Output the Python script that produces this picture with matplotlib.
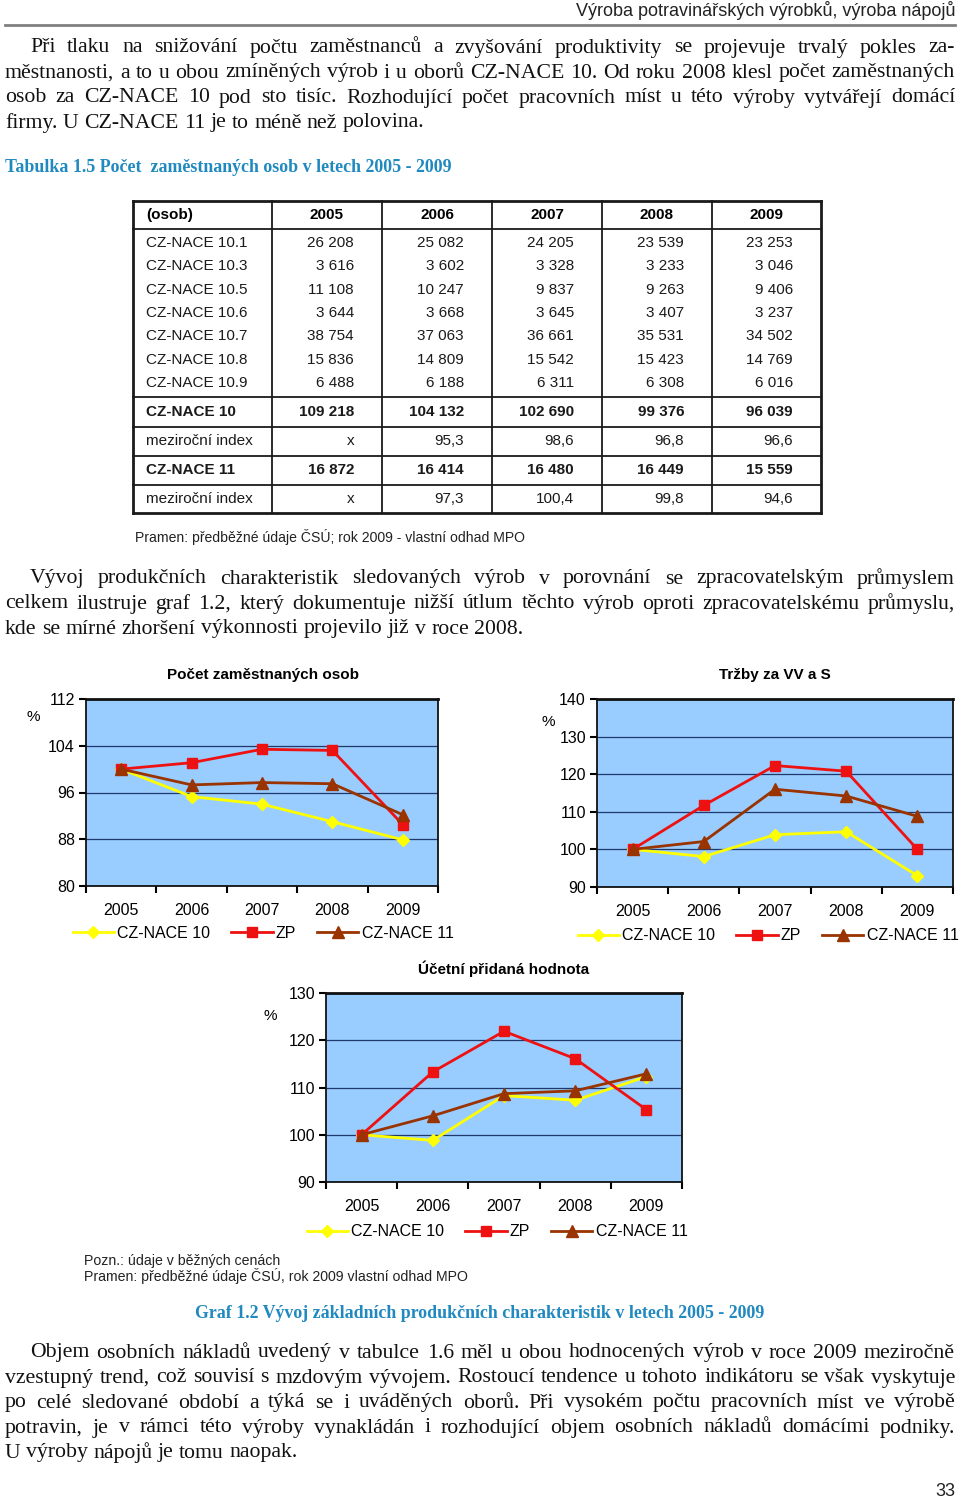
# Strana 33: zaměstnanost a produkční charakteristiky (tabulka 1.5, graf 1.2)

import numpy as np
import matplotlib
matplotlib.use('Agg')
import matplotlib.pyplot as plt

# ---- data ----
years = ['2005', '2006', '2007', '2008', '2009']

sub_labels = ['CZ-NACE 10.1', 'CZ-NACE 10.3', 'CZ-NACE 10.5', 'CZ-NACE 10.6',
              'CZ-NACE 10.7', 'CZ-NACE 10.8', 'CZ-NACE 10.9']
sub_values = [[26208, 25082, 24205, 23539, 23253],
              [3616, 3602, 3328, 3233, 3046],
              [11108, 10247, 9837, 9263, 9406],
              [3644, 3668, 3645, 3407, 3237],
              [38754, 37063, 36661, 35531, 34502],
              [15836, 14809, 15542, 15423, 14769],
              [6488, 6188, 6311, 6308, 6016]]
nace10_total = [109218, 104132, 102690, 99376, 96039]
nace10_index = [None, 95.3, 98.6, 96.8, 96.6]
nace11_total = [16872, 16414, 16480, 16449, 15559]
nace11_index = [None, 97.3, 100.4, 99.8, 94.6]

# graf 1.2 (index 2005 = 100)
emp_nace10 = [100, 95.3, 94.0, 91.0, 87.9]
emp_zp = [100, 101.1, 103.4, 103.2, 90.5]
emp_nace11 = [100, 97.3, 97.7, 97.5, 92.2]

sales_nace10 = [100, 98.1, 103.9, 104.7, 93.0]
sales_zp = [100, 111.7, 122.3, 120.8, 100.0]
sales_nace11 = [100, 102.1, 116.0, 114.2, 108.8]

va_nace10 = [100, 98.8, 108.3, 107.3, 112.3]
va_zp = [100, 113.3, 121.9, 116.1, 105.3]
va_nace11 = [100, 104.0, 108.7, 109.3, 112.9]

par1 = ['Při tlaku na snižování počtu zaměstnanců a zvyšování produktivity se projevuje trvalý pokles za-',
        'městnanosti, a to u obou zmíněných výrob i u oborů CZ-NACE 10. Od roku 2008 klesl počet zaměstnaných',
        'osob za CZ-NACE 10 pod sto tisíc. Rozhodující počet pracovních míst u této výroby vytvářejí domácí',
        'firmy. U CZ-NACE 11 je to méně než polovina.']
par2 = ['Vývoj produkčních charakteristik sledovaných výrob v porovnání se zpracovatelským průmyslem',
        'celkem ilustruje graf 1.2, který dokumentuje nižší útlum těchto výrob oproti zpracovatelskému průmyslu,',
        'kde se mírné zhoršení výkonnosti projevilo již v roce 2008.']
par3 = ['Objem osobních nákladů uvedený v tabulce 1.6 měl u obou hodnocených výrob v roce 2009 meziročně',
        'vzestupný trend, což souvisí s mzdovým vývojem. Rostoucí tendence u tohoto indikátoru se však vyskytuje',
        'po celé sledované období a týká se i uváděných oborů. Při vysokém počtu pracovních míst ve výrobě',
        'potravin, je v rámci této výroby vynakládán i rozhodující objem osobních nákladů domácími podniky.',
        'U výroby nápojů je tomu naopak.']

# ---- page ----
W, H = 960, 1503
SERIF = 'Liberation Serif'
SANS = 'Liberation Sans'
TEAL = '#2089c0'

fig = plt.figure(figsize=(W / 100, H / 100), dpi=100)
page = fig.add_axes([0, 0, 1, 1])
page.set_xlim(0, W)
page.set_ylim(H, 0)
page.axis('off')
renderer = fig.canvas.get_renderer()


def width(t):
    return t.get_window_extent(renderer=renderer).width


def natural(line, size, indent):
    # width of a line set with ordinary word spaces
    t = page.text(0, 0, line, fontsize=size, family=SERIF)
    w = width(t) + indent
    t.remove()
    return w


# one body size for all paragraphs, chosen so the longest line just fills the column
base = 15
widest = max(natural(ln, base, 25 if k == 0 else 0)
             for p in (par1, par2, par3) for k, ln in enumerate(p[:-1]))
BODY = min(base * 946 / widest, 17)


def justify(lines, y0, step=25, left=5, right=955, indent=25, size=BODY):
    for i, line in enumerate(lines):
        y = y0 + i * step
        x0 = left + (indent if i == 0 else 0)
        words = line.split(' ')
        texts = [page.text(0, y, w, fontsize=size, family=SERIF, va='center', color='#111111')
                 for w in words]
        ws = [width(t) for t in texts]
        if i == len(lines) - 1:
            gap = size * 0.25 * 100 / 72
        else:
            gap = (right - x0 - sum(ws)) / (len(words) - 1)
        x = x0
        for t, w in zip(texts, ws):
            t.set_x(x)
            x += w + gap


# header
page.text(955, 11, 'Výroba potravinářských výrobků, výroba nápojů', ha='right', va='center',
          fontsize=13, family=SANS, color='#222222')
page.plot([5, 955], [25, 25], color='#808080', lw=2)

justify(par1, 48)
page.text(5, 168, 'Tabulka 1.5 Počet  zaměstnaných osob v letech 2005 - 2009', fontsize=12.9,
          family=SERIF, weight='bold', color=TEAL, va='center')

# ---- table ----
col_x = [133, 272, 382, 492, 602, 712, 821]
h_lines = [201, 229, 397, 427, 456, 485, 513]
for cx in col_x:
    page.plot([cx, cx], [h_lines[0], h_lines[-1]], color='#1a1a1a',
              lw=2 if cx in (col_x[0], col_x[-1]) else 1.3)
for hy in h_lines:
    page.plot([col_x[0], col_x[-1]], [hy, hy], color='#1a1a1a',
              lw=2 if hy in (h_lines[0], h_lines[-1]) else 1.3)

fs = 11
page.text(146, 215, '(osob)', fontsize=fs, family=SANS, weight='bold', va='center')
for j, yr in enumerate(years):
    page.text((col_x[j + 1] + col_x[j + 2]) / 2, 215, yr, fontsize=fs, family=SANS,
              weight='bold', va='center', ha='center')


def fmt_int(v):
    return f'{v:,}'.replace(',', ' ')


def fmt_idx(v):
    return 'x' if v is None else f'{v:.1f}'.replace('.', ',')


def table_row(y, label, cells, bold=False):
    wt = 'bold' if bold else 'normal'
    page.text(146, y, label, fontsize=fs, family=SANS, weight=wt, va='center', color='#1a1a1a')
    for j, c in enumerate(cells):
        page.text(col_x[j + 2] - 28, y, c, fontsize=fs, family=SANS, weight=wt,
                  va='center', ha='right', color='#1a1a1a')


for i, (lab, vals) in enumerate(zip(sub_labels, sub_values)):
    table_row(243 + i * 23.3, lab, [fmt_int(v) for v in vals])
table_row(412, 'CZ-NACE 10', [fmt_int(v) for v in nace10_total], bold=True)
table_row(441, 'meziroční index', [fmt_idx(v) for v in nace10_index])
table_row(470, 'CZ-NACE 11', [fmt_int(v) for v in nace11_total], bold=True)
table_row(499, 'meziroční index', [fmt_idx(v) for v in nace11_index])

page.text(135, 537, 'Pramen: předběžné údaje ČSÚ; rok 2009 - vlastní odhad MPO', fontsize=10.1,
          family=SANS, va='center', color='#222222')

justify(par2, 579)


# ---- charts ----
def chart(rect, title, ylim, yticks, c10, zp, c11, title_x, pct_xy, leg_x, leg_y):
    l, t, r, b = rect
    ax = fig.add_axes([l / W, 1 - b / H, (r - l) / W, (b - t) / H])
    ax.set_facecolor('#99ccff')
    x = np.arange(len(years))
    ax.plot(x, c10, color='#ffff00', lw=2, marker='D', ms=6, label='CZ-NACE 10', zorder=3)
    ax.plot(x, zp, color='#ee1111', lw=2, marker='s', ms=7.5, label='ZP', zorder=4)
    ax.plot(x, c11, color='#993300', lw=2, marker='^', ms=8, label='CZ-NACE 11', zorder=5)
    ax.set_xlim(-0.5, len(years) - 0.5)
    ax.set_ylim(*ylim)
    ax.set_yticks(yticks)
    ax.set_xticks(np.arange(-0.5, len(years), 1))
    ax.set_xticklabels([])
    ax.set_xticks(x, minor=True)
    ax.set_xticklabels(years, minor=True)
    ax.tick_params(axis='x', which='minor', length=0, pad=12, labelsize=11.5)
    ax.tick_params(axis='x', which='major', length=5, width=1.5, direction='out')
    ax.tick_params(axis='y', length=5, width=1.5, labelsize=11.5, pad=3)
    for lab in ax.get_xticklabels(minor=True) + ax.get_yticklabels():
        lab.set_family(SANS)
    ax.grid(axis='y', color='#1f3a6a', lw=0.9)
    for s in ax.spines.values():
        s.set_color('#111111')
        s.set_linewidth(1.3)
    ax.spines['top'].set_linewidth(2)
    page.text(title_x, t - 24, title, ha='center', va='center', fontsize=11,
              family=SANS, weight='bold')
    page.text(pct_xy[0], pct_xy[1], '%', ha='center', va='center', fontsize=11, family=SANS)
    ax.legend(loc='center', bbox_to_anchor=(leg_x / W, 1 - leg_y / H),
              bbox_transform=fig.transFigure, ncol=3, frameon=False,
              handlelength=2.6, handletextpad=0.2, columnspacing=1.3, borderpad=0,
              prop={'family': SANS, 'size': 11.5})
    return ax


chart((86, 699, 438, 886), 'Počet zaměstnaných osob', (80, 112), [80, 88, 96, 104, 112],
      emp_nace10, emp_zp, emp_nace11, 263, (33, 717), 263, 933)
chart((597, 699, 953, 887), 'Tržby za VV a S', (90, 140), [90, 100, 110, 120, 130, 140],
      sales_nace10, sales_zp, sales_nace11, 775, (548, 722), 768, 936)
chart((326, 993, 682, 1182), 'Účetní přidaná hodnota', (90, 130), [90, 100, 110, 120, 130],
      va_nace10, va_zp, va_nace11, 504, (270, 1016), 497, 1232)

page.text(84, 1261, 'Pozn.: údaje v běžných cenách', fontsize=10.2, family=SANS, va='center',
          color='#222222')
page.text(84, 1276, 'Pramen: předběžné údaje ČSÚ, rok 2009 vlastní odhad MPO', fontsize=10.2,
          family=SANS, va='center', color='#222222')
page.text(480, 1313, 'Graf 1.2 Vývoj základních produkčních charakteristik v letech 2005 - 2009',
          fontsize=12.9, family=SERIF, weight='bold', color=TEAL, va='center', ha='center')

justify(par3, 1353)

page.text(955, 1492, '33', ha='right', va='center', fontsize=13, family=SANS, color='#222222')

fig.savefig('out.png', dpi=100)
